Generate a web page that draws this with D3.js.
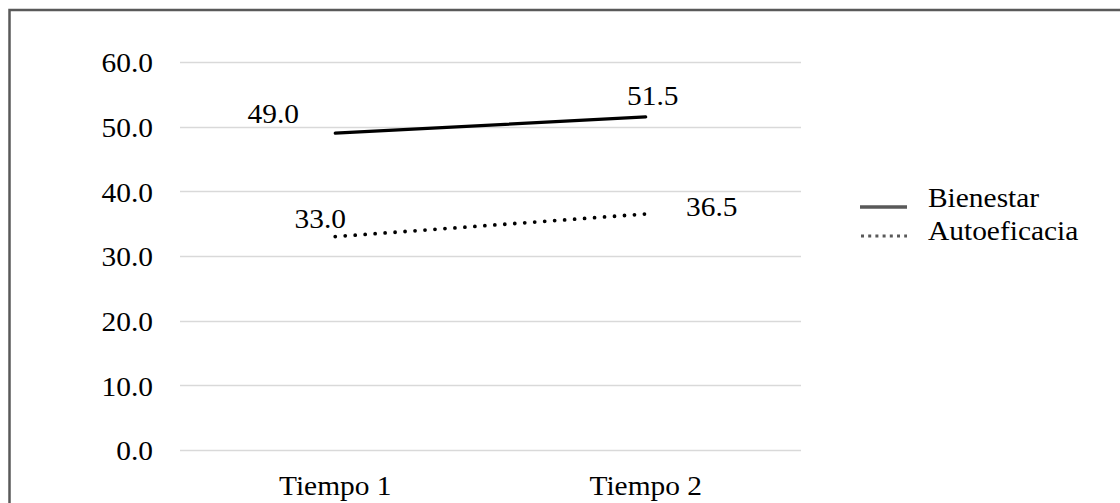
<!DOCTYPE html>
<html>
<head>
<meta charset="utf-8">
<script src="https://cdn.jsdelivr.net/npm/d3@7"></script>
</head>
<body style="margin:0">
<svg id="chart" width="1120" height="503"></svg>
<script>
const categories = ["Tiempo 1", "Tiempo 2"];
const seriesNames = ["Bienestar", "Autoeficacia"];
const bienestar = [49.0, 51.5];
const autoeficacia = [33.0, 36.5];
const yTicks = [0, 10, 20, 30, 40, 50, 60];

// label placement offsets (style, not data): [dx, dy] relative to point
const labelOffsets = {
  "Bienestar": [[-62, -10], [7, -12]],
  "Autoeficacia": [[-15, -9], [66, 2]]
};

const FONT = "Liberation Serif";
const FS = "27px";
const SX = 1.09; // horizontal text stretch of the reference

const svg = d3.select("#chart").style("font-family", FONT);
const W = 1120, H = 503;

function styleText(sel) {
  return sel.style("font-family", FONT).style("font-size", FS).style("fill", "#000");
}

// outer border (extends past right and bottom edge)
svg.append("rect")
  .attr("x", 9.5).attr("y", 10)
  .attr("width", W + 20).attr("height", H + 20)
  .attr("fill", "none").attr("stroke", "#595959").attr("stroke-width", 2.5);

const x = d3.scaleBand().domain(categories).range([180, 801]);
const y = d3.scaleLinear().domain([0, 60]).range([450, 62]);
const cx = c => x(c) + x.bandwidth() / 2;

// gridlines
svg.append("g").selectAll("line").data(yTicks).join("line")
  .attr("x1", 180).attr("x2", 801)
  .attr("y1", d => Math.round(y(d)) + 0.5).attr("y2", d => Math.round(y(d)) + 0.5)
  .attr("stroke", "#d9d9d9").attr("stroke-width", 1.3);

// y axis labels
const yAxis = d3.axisLeft(y).tickValues(yTicks).tickFormat(d3.format(".1f")).tickSize(0).tickPadding(0);
const gy = svg.append("g").attr("transform", "translate(153,0)").call(yAxis);
gy.attr("font-family", null).attr("font-size", null);
gy.select(".domain").remove();
styleText(gy.selectAll("text"))
  .attr("dy", "0.36em")
  .attr("transform", `scale(${SX},1)`);

// x axis labels
const xAxis = d3.axisBottom(x).tickSize(0).tickPadding(0);
const gx = svg.append("g").attr("transform", "translate(0,473)").call(xAxis);
gx.attr("font-family", null).attr("font-size", null);
gx.select(".domain").remove();
styleText(gx.selectAll("text"))
  .attr("dy", "0.8em")
  .attr("transform", `scale(${SX},1)`);

const series = [
  { name: seriesNames[0], values: bienestar, dash: null },
  { name: seriesNames[1], values: autoeficacia, dash: "0,10" }
];

const line = d3.line().x((d, i) => cx(categories[i])).y(d => y(d));

series.forEach(s => {
  svg.append("path")
    .datum(s.values)
    .attr("d", line)
    .attr("fill", "none")
    .attr("stroke", "#000")
    .attr("stroke-width", s.dash ? 3.8 : 3.2)
    .attr("stroke-linecap", "round")
    .attr("stroke-dasharray", s.dash);

  styleText(svg.append("g").selectAll("text").data(s.values).join("text"))
    .attr("transform", (d, i) =>
      `translate(${cx(categories[i]) + labelOffsets[s.name][i][0]},${y(d) + labelOffsets[s.name][i][1]}) scale(${SX},1)`)
    .attr("text-anchor", "middle")
    .text(d => d3.format(".1f")(d));
});

// legend
const legend = svg.append("g");
series.forEach((s, i) => {
  const ly = 207 + i * 32;
  legend.append("line")
    .attr("x1", s.dash ? 861 : 860).attr("x2", 907)
    .attr("y1", ly - (s.dash ? 3 : 0)).attr("y2", ly - (s.dash ? 3 : 0))
    .attr("stroke", "#595959")
    .attr("stroke-width", s.dash ? 3 : 3.5)
    .attr("stroke-dasharray", s.dash ? "3,4.2" : null);
  styleText(legend.append("text"))
    .attr("transform", `translate(928,${ly + (i ? 1 : 0)}) scale(${SX},1)`)
    .text(s.name);
});
</script>
</body>
</html>
